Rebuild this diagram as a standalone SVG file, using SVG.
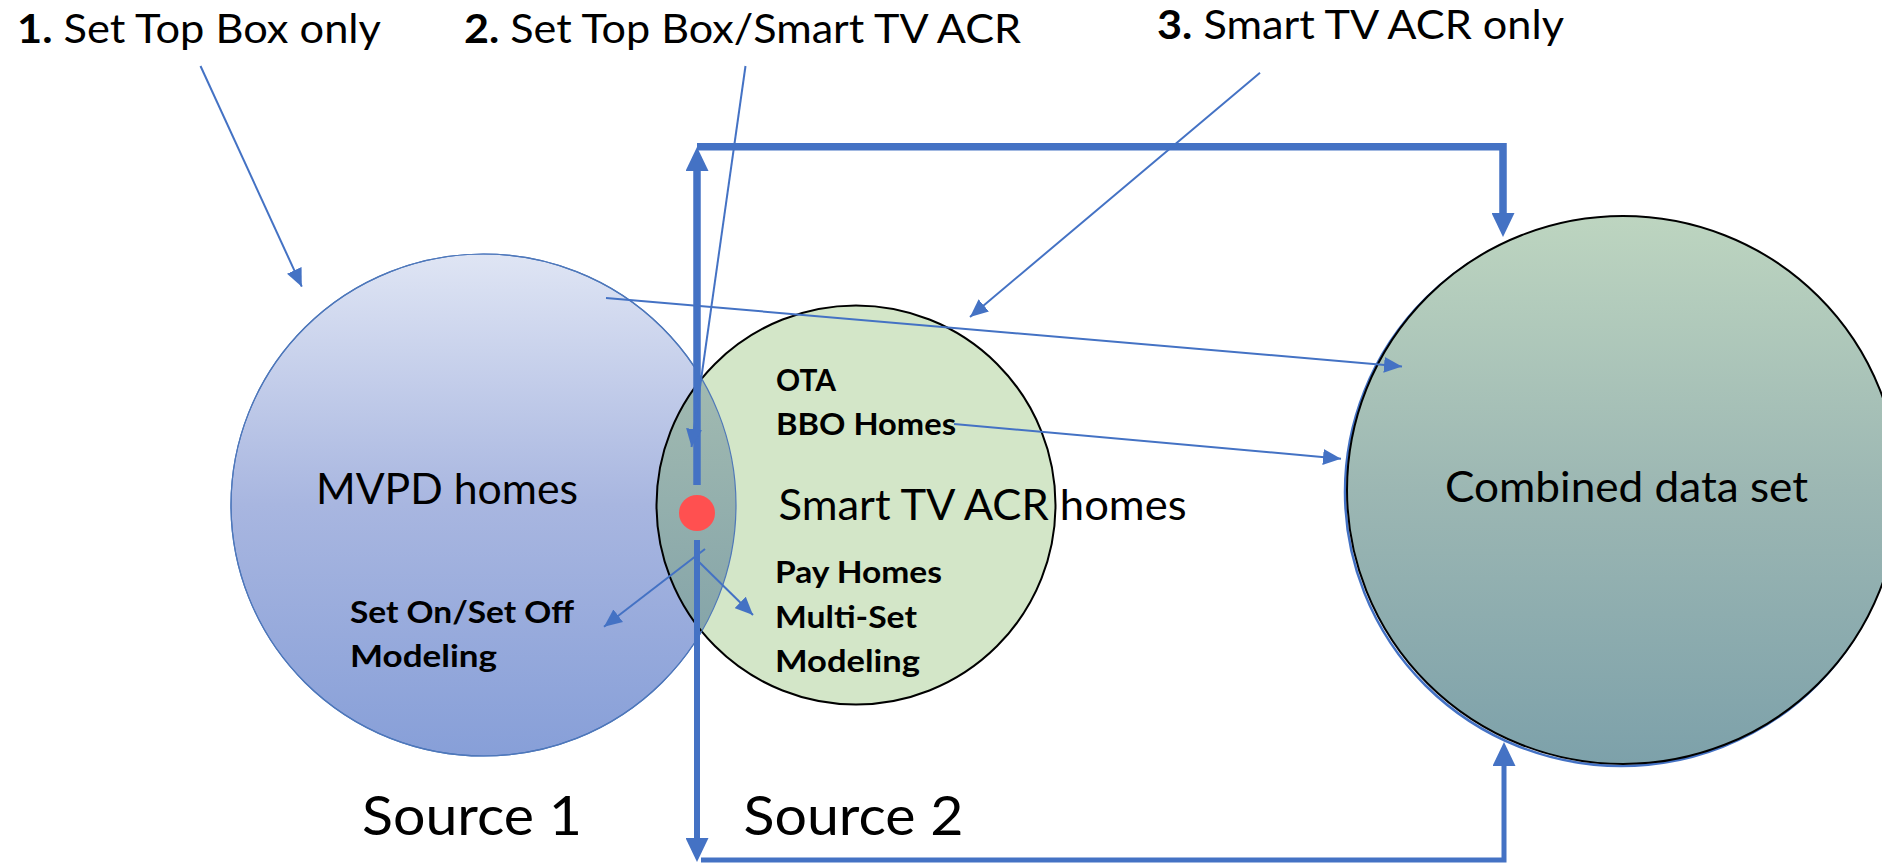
<svg xmlns="http://www.w3.org/2000/svg" width="1882" height="863" viewBox="0 0 1882 863">
<style>
.t{font-family:Lato,"Liberation Sans",sans-serif;fill:#000}
.b{font-weight:bold}
.thin{fill:none;stroke:#4472C4;stroke-width:2;marker-end:url(#ahThin)}
.thick{fill:none;stroke:#4472C4;marker-end:url(#ahThick)}
</style>
<defs>
<linearGradient id="gMvpd" x1="0" y1="0" x2="0" y2="1">
<stop offset="0" stop-color="#dfe5f4"/>
<stop offset="0.5" stop-color="#a8b6e0"/>
<stop offset="1" stop-color="#879fd8"/>
</linearGradient>
<linearGradient id="gOver" x1="0" y1="0" x2="0" y2="1">
<stop offset="0" stop-color="#a9c0b3"/>
<stop offset="1" stop-color="#7e9fa7"/>
</linearGradient>
<linearGradient id="gComb" x1="0" y1="0" x2="0" y2="1">
<stop offset="0" stop-color="#bdd5c0"/>
<stop offset="0.5" stop-color="#9cb7b3"/>
<stop offset="1" stop-color="#7da1aa"/>
</linearGradient>
<clipPath id="cMvpd"><ellipse cx="483.5" cy="505" rx="252.5" ry="251"/></clipPath>
<marker id="ahThick" markerUnits="userSpaceOnUse" markerWidth="24" markerHeight="23" refX="0" refY="11.5" orient="auto" viewBox="0 0 24 23"><path d="M0,0 L24,11.5 L0,23 z" fill="#4472C4"/></marker>
<marker id="ahThin" markerUnits="userSpaceOnUse" markerWidth="18" markerHeight="16" refX="18" refY="8" orient="auto" viewBox="0 0 18 16"><path d="M0,0 L18,8 L0,16 z" fill="#4472C4"/></marker>
</defs>
<rect width="1882" height="863" fill="#fff"/>

<g id="node-mvpd">
<ellipse cx="483.5" cy="505" rx="252.5" ry="251" fill="url(#gMvpd)" stroke="#4472C4" stroke-width="1.2"/>
</g>
<g id="node-smarttv">
<circle cx="856" cy="505" r="199.5" fill="#d3e6c8"/>
<circle cx="856" cy="505" r="199.5" fill="url(#gOver)" clip-path="url(#cMvpd)"/>
<circle cx="856" cy="505" r="199.5" fill="none" stroke="#000" stroke-width="2"/>
<ellipse cx="483.5" cy="505" rx="252.5" ry="251" fill="none" stroke="#4f78b8" stroke-width="1.2"/>
</g>
<g id="node-combined">
<ellipse cx="1621" cy="492" rx="276" ry="274" fill="none" stroke="#4472C4" stroke-width="2.5"/>
<ellipse cx="1623" cy="490" rx="276" ry="274" fill="url(#gComb)" stroke="#000" stroke-width="2"/>
<text class="t" x="1445" y="502" font-size="43" textLength="363" lengthAdjust="spacingAndGlyphs">Combined data set</text>
</g>

<g id="connectors">
<path class="thick" stroke-width="7.5" d="M697,485 V171"/>
<path class="thick" stroke-width="7.5" d="M697,146.7 H1503 V213"/>
<path class="thick" stroke-width="6" d="M697,540 V838"/>
<path class="thick" stroke-width="5" d="M701,860 H1504 V766"/>
<path class="thin" d="M200.5,66 L301.8,286.7"/>
<path class="thin" d="M745.5,66 L691.5,447"/>
<path class="thin" d="M1260,72.7 L970,317"/>
<path class="thin" d="M606,298 L1402,366.4"/>
<path class="thin" d="M954,424 L1341,458.7"/>
<path class="thin" d="M705,549 L604,626.7"/>
<path class="thin" d="M697,560 L753,615"/>
</g>

<g id="node-dot">
<circle cx="697" cy="513" r="18" fill="#ff5050"/>
</g>

<g id="labels-mvpd">
<text class="t" x="316" y="504" font-size="43" textLength="262" lengthAdjust="spacingAndGlyphs">MVPD homes</text>
<text class="t b" x="350" y="623" font-size="31" textLength="224" lengthAdjust="spacingAndGlyphs">Set On/Set Off</text>
<text class="t b" x="350" y="667" font-size="31" textLength="147" lengthAdjust="spacingAndGlyphs">Modeling</text>
</g>
<g id="labels-smarttv">
<text class="t b" x="776" y="391" font-size="31" textLength="60" lengthAdjust="spacingAndGlyphs">OTA</text>
<text class="t b" x="776" y="435" font-size="31" textLength="180" lengthAdjust="spacingAndGlyphs">BBO Homes</text>
<text class="t" x="778.5" y="520" font-size="42" textLength="408" lengthAdjust="spacingAndGlyphs">Smart TV ACR homes</text>
<text class="t b" x="775" y="583" font-size="31" textLength="167" lengthAdjust="spacingAndGlyphs">Pay Homes</text>
<text class="t b" x="775" y="628" font-size="31" textLength="142" lengthAdjust="spacingAndGlyphs">Multi-Set</text>
<text class="t b" x="775" y="672" font-size="31" textLength="145" lengthAdjust="spacingAndGlyphs">Modeling</text>
</g>
<g id="titles">
<text class="t" x="17" y="43" font-size="40" textLength="364" lengthAdjust="spacingAndGlyphs"><tspan class="b">1.</tspan> Set Top Box only</text>
<text class="t" x="464" y="43" font-size="40" textLength="557" lengthAdjust="spacingAndGlyphs"><tspan class="b">2.</tspan> Set Top Box/Smart TV ACR</text>
<text class="t" x="1157" y="39" font-size="40" textLength="407" lengthAdjust="spacingAndGlyphs"><tspan class="b">3.</tspan> Smart TV ACR only</text>
</g>
<g id="sources">
<text class="t" x="362" y="835" font-size="55" textLength="220" lengthAdjust="spacingAndGlyphs">Source 1</text>
<text class="t" x="743.5" y="835" font-size="55" textLength="220" lengthAdjust="spacingAndGlyphs">Source 2</text>
</g>
</svg>
